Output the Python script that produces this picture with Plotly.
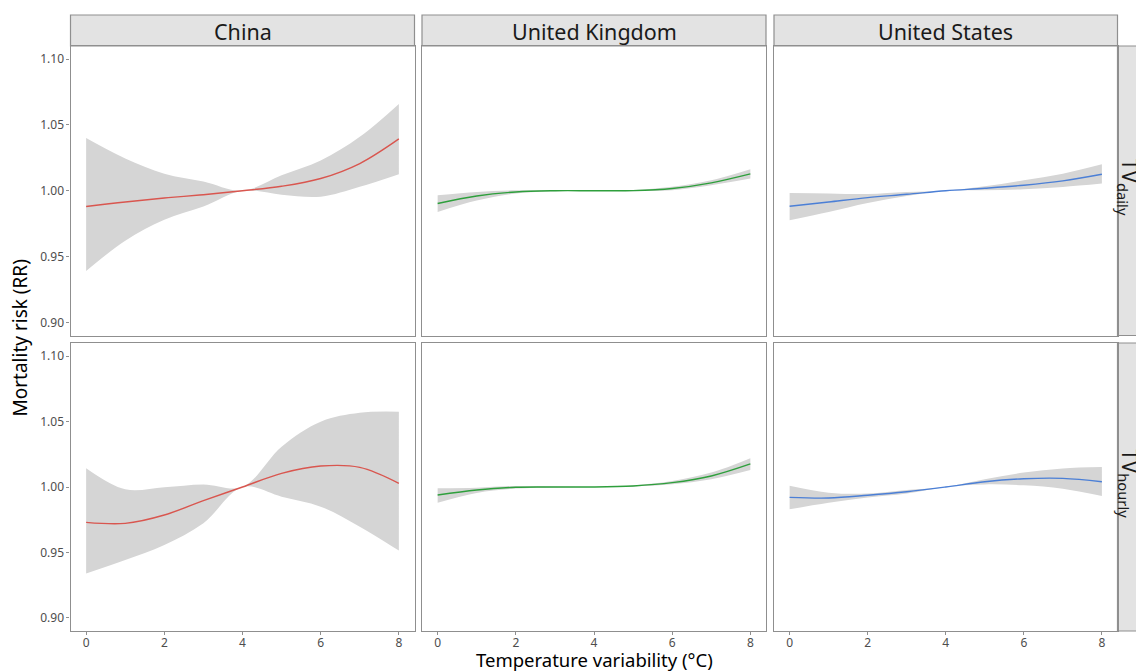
import plotly.graph_objects as go

W, H = 1136, 671

# ---------------- data ----------------
x_vals = [0, 1, 2, 3, 4, 5, 6, 7, 8]
countries = ["China", "United Kingdom", "United States"]
metrics = ["daily", "hourly"]
line_colors = ["#D9564F", "#2E9F3C", "#4B7FD6"]

china_daily_fit = [0.988, 0.9915, 0.9945, 0.997, 1.000, 1.0034, 1.0093, 1.0207, 1.0394]
china_daily_hi = [1.040, 1.0245, 1.013, 1.007, 1.000, 1.0118, 1.023, 1.041, 1.066]
china_daily_lo = [0.939, 0.962, 0.978, 0.988, 1.000, 0.997, 0.9955, 1.003, 1.0126]

china_hourly_fit = [0.973, 0.9722, 0.9786, 0.9896, 1.000, 1.0104, 1.016, 1.015, 1.0028]
china_hourly_hi = [1.0143, 0.9982, 0.9998, 1.002, 1.000, 1.0308, 1.0499, 1.0567, 1.0575]
china_hourly_lo = [0.934, 0.9443, 0.9557, 0.9723, 1.000, 0.9926, 0.985, 0.9697, 0.9514]

uk_daily_fit = [0.9903, 0.996, 0.9991, 1.0000, 1.000, 1.0001, 1.0017, 1.006, 1.0128]
uk_daily_hi = [0.9966, 0.9991, 1.0003, 1.0004, 1.000, 1.0005, 1.0030, 1.008, 1.0164]
uk_daily_lo = [0.9839, 0.9925, 0.9979, 0.9996, 1.000, 0.9997, 1.0004, 1.0042, 1.0093]

uk_hourly_fit = [0.9939, 0.9977, 0.9998, 1.0000, 1.000, 1.0008, 1.0033, 1.0084, 1.0176]
uk_hourly_hi = [0.999, 0.9995, 1.0008, 1.0003, 1.000, 1.0012, 1.0045, 1.011, 1.022]
uk_hourly_lo = [0.988, 0.9955, 0.9988, 0.9997, 1.000, 1.0004, 1.0021, 1.006, 1.013]

us_daily_fit = [0.9882, 0.9915, 0.9948, 0.9973, 1.000, 1.0019, 1.0042, 1.0075, 1.0125]
us_daily_hi = [0.9983, 0.998, 0.9975, 0.999, 1.000, 1.0034, 1.008, 1.013, 1.0201]
us_daily_lo = [0.9776, 0.9839, 0.9907, 0.996, 1.000, 1.0004, 1.0011, 1.0029, 1.0055]

us_hourly_fit = [0.9921, 0.9916, 0.9937, 0.9964, 1.000, 1.004, 1.0063, 1.0066, 1.004]
us_hourly_hi = [1.001, 0.9957, 0.995, 0.9977, 1.000, 1.0059, 1.011, 1.0142, 1.0153]
us_hourly_lo = [0.983, 0.988, 0.992, 0.995, 1.000, 1.002, 1.0013, 0.9987, 0.9931]

x_ticks = [0, 2, 4, 6, 8]
y_ticks = [0.90, 0.95, 1.00, 1.05, 1.10]
y_tick_text = ["0.90", "0.95", "1.00", "1.05", "1.10"]

panels = {
    ("daily", 0): (china_daily_fit, china_daily_lo, china_daily_hi),
    ("daily", 1): (uk_daily_fit, uk_daily_lo, uk_daily_hi),
    ("daily", 2): (us_daily_fit, us_daily_lo, us_daily_hi),
    ("hourly", 0): (china_hourly_fit, china_hourly_lo, china_hourly_hi),
    ("hourly", 1): (uk_hourly_fit, uk_hourly_lo, uk_hourly_hi),
    ("hourly", 2): (us_hourly_fit, us_hourly_lo, us_hourly_hi),
}

# ---------------- layout geometry (pixels) ----------------
col_px = [(70.5, 414.5), (422, 766), (774, 1117.5)]
row_px = [(46, 335.5), (343, 631)]
strip_top = (15, 46)
strip_right = (1117.5, 1150)

def px_x(p):
    return p / W

def px_y(p):
    return 1 - p / H

FONT = "Noto Sans"
BORDER = "#8F8F8F"
STRIP_FILL = "#E3E3E3"
BAND = "#D5D5D5"

fig = go.Figure()
layout = dict(
    width=W, height=H,
    margin=dict(l=0, r=0, t=0, b=0),
    paper_bgcolor="white", plot_bgcolor="white",
    showlegend=False,
    font=dict(family=FONT, color="#4D4D4D"),
)

shapes = []
annotations = []
idx = 0
for r, metric in enumerate(metrics):
    for c in range(3):
        idx += 1
        xa = "xaxis" if idx == 1 else f"xaxis{idx}"
        ya = "yaxis" if idx == 1 else f"yaxis{idx}"
        xr = "x" if idx == 1 else f"x{idx}"
        yr = "y" if idx == 1 else f"y{idx}"
        fit, lo, hi = panels[(metric, c)]
        # ribbon: lower edge, then upper edge filled to it
        fig.add_trace(go.Scatter(
            x=x_vals, y=lo, mode="lines",
            line=dict(width=0, color=BAND, shape="spline", smoothing=1.0),
            hoverinfo="skip", xaxis=xr, yaxis=yr,
        ))
        fig.add_trace(go.Scatter(
            x=x_vals, y=hi, mode="lines", fill="tonexty", fillcolor=BAND,
            line=dict(width=0, color=BAND, shape="spline", smoothing=1.0),
            hoverinfo="skip", xaxis=xr, yaxis=yr,
        ))
        fig.add_trace(go.Scatter(
            x=x_vals, y=fit, mode="lines",
            line=dict(color=line_colors[c], width=1.4, shape="spline", smoothing=1.0),
            xaxis=xr, yaxis=yr,
        ))
        layout[xa] = dict(
            domain=[px_x(col_px[c][0]), px_x(col_px[c][1])],
            anchor=yr, range=[-0.4, 8.4],
            tickvals=x_ticks, ticktext=[str(t) for t in x_ticks],
            showticklabels=(r == 1),
            ticks="outside" if r == 1 else "", ticklen=3, tickcolor=BORDER,
            ticklabelstandoff=-3,
            showgrid=False, zeroline=False,
            showline=True, mirror=True, linecolor=BORDER, linewidth=1.2,
            tickfont=dict(size=12, color="#4D4D4D", family=FONT),
        )
        layout[ya] = dict(
            domain=[px_y(row_px[r][1]), px_y(row_px[r][0])],
            anchor=xr, range=[0.89, 1.11],
            tickvals=y_ticks, ticktext=y_tick_text,
            showticklabels=(c == 0),
            ticks="outside" if c == 0 else "", ticklen=3, tickcolor=BORDER,
            showgrid=False, zeroline=False,
            showline=True, mirror=True, linecolor=BORDER, linewidth=1.2,
            tickfont=dict(size=12, color="#4D4D4D", family=FONT),
        )

# top strips
for c, name in enumerate(countries):
    x0, x1 = col_px[c]
    shapes.append(dict(type="rect", xref="paper", yref="paper",
                       x0=px_x(x0), x1=px_x(x1), y0=px_y(strip_top[1]), y1=px_y(strip_top[0]),
                       fillcolor=STRIP_FILL, line=dict(color=BORDER, width=1.2), layer="below"))
    annotations.append(dict(text=name, xref="paper", yref="paper",
                            x=px_x((x0 + x1) / 2), y=px_y((strip_top[0] + strip_top[1]) / 2 + 0.5),
                            showarrow=False, xanchor="center", yanchor="middle",
                            font=dict(size=21.5, color="#1A1A1A", family=FONT)))

# right strips
for r, metric in enumerate(metrics):
    y0, y1 = row_px[r]
    shapes.append(dict(type="rect", xref="paper", yref="paper",
                       x0=px_x(strip_right[0]), x1=px_x(strip_right[1]), y0=px_y(y1), y1=px_y(y0),
                       fillcolor=STRIP_FILL, line=dict(color=BORDER, width=1.2), layer="below"))
    annotations.append(dict(text=f"TV<sub>{metric}</sub>", xref="paper", yref="paper",
                            x=px_x(1129), y=px_y((y0 + y1) / 2 - 4),
                            showarrow=False, xanchor="center", yanchor="middle", textangle=90,
                            font=dict(size=21, color="#1A1A1A", family=FONT)))

# axis titles
annotations.append(dict(text="Mortality risk (RR)", xref="paper", yref="paper",
                        x=px_x(19), y=px_y((row_px[0][0] + row_px[1][1]) / 2),
                        showarrow=False, textangle=-90, xanchor="center", yanchor="middle",
                        font=dict(size=19, color="#000000", family=FONT)))
annotations.append(dict(text="Temperature variability (°C)", xref="paper", yref="paper",
                        x=px_x((col_px[0][0] + col_px[2][1]) / 2), y=px_y(659.5),
                        showarrow=False, xanchor="center", yanchor="middle",
                        font=dict(size=18.5, color="#000000", family=FONT)))

layout["shapes"] = shapes
layout["annotations"] = annotations
fig.update_layout(**layout)

fig.write_html("out.html", config={"displayModeBar": False},
               post_script="document.body.style.margin='0';document.body.style.overflow='hidden';")
